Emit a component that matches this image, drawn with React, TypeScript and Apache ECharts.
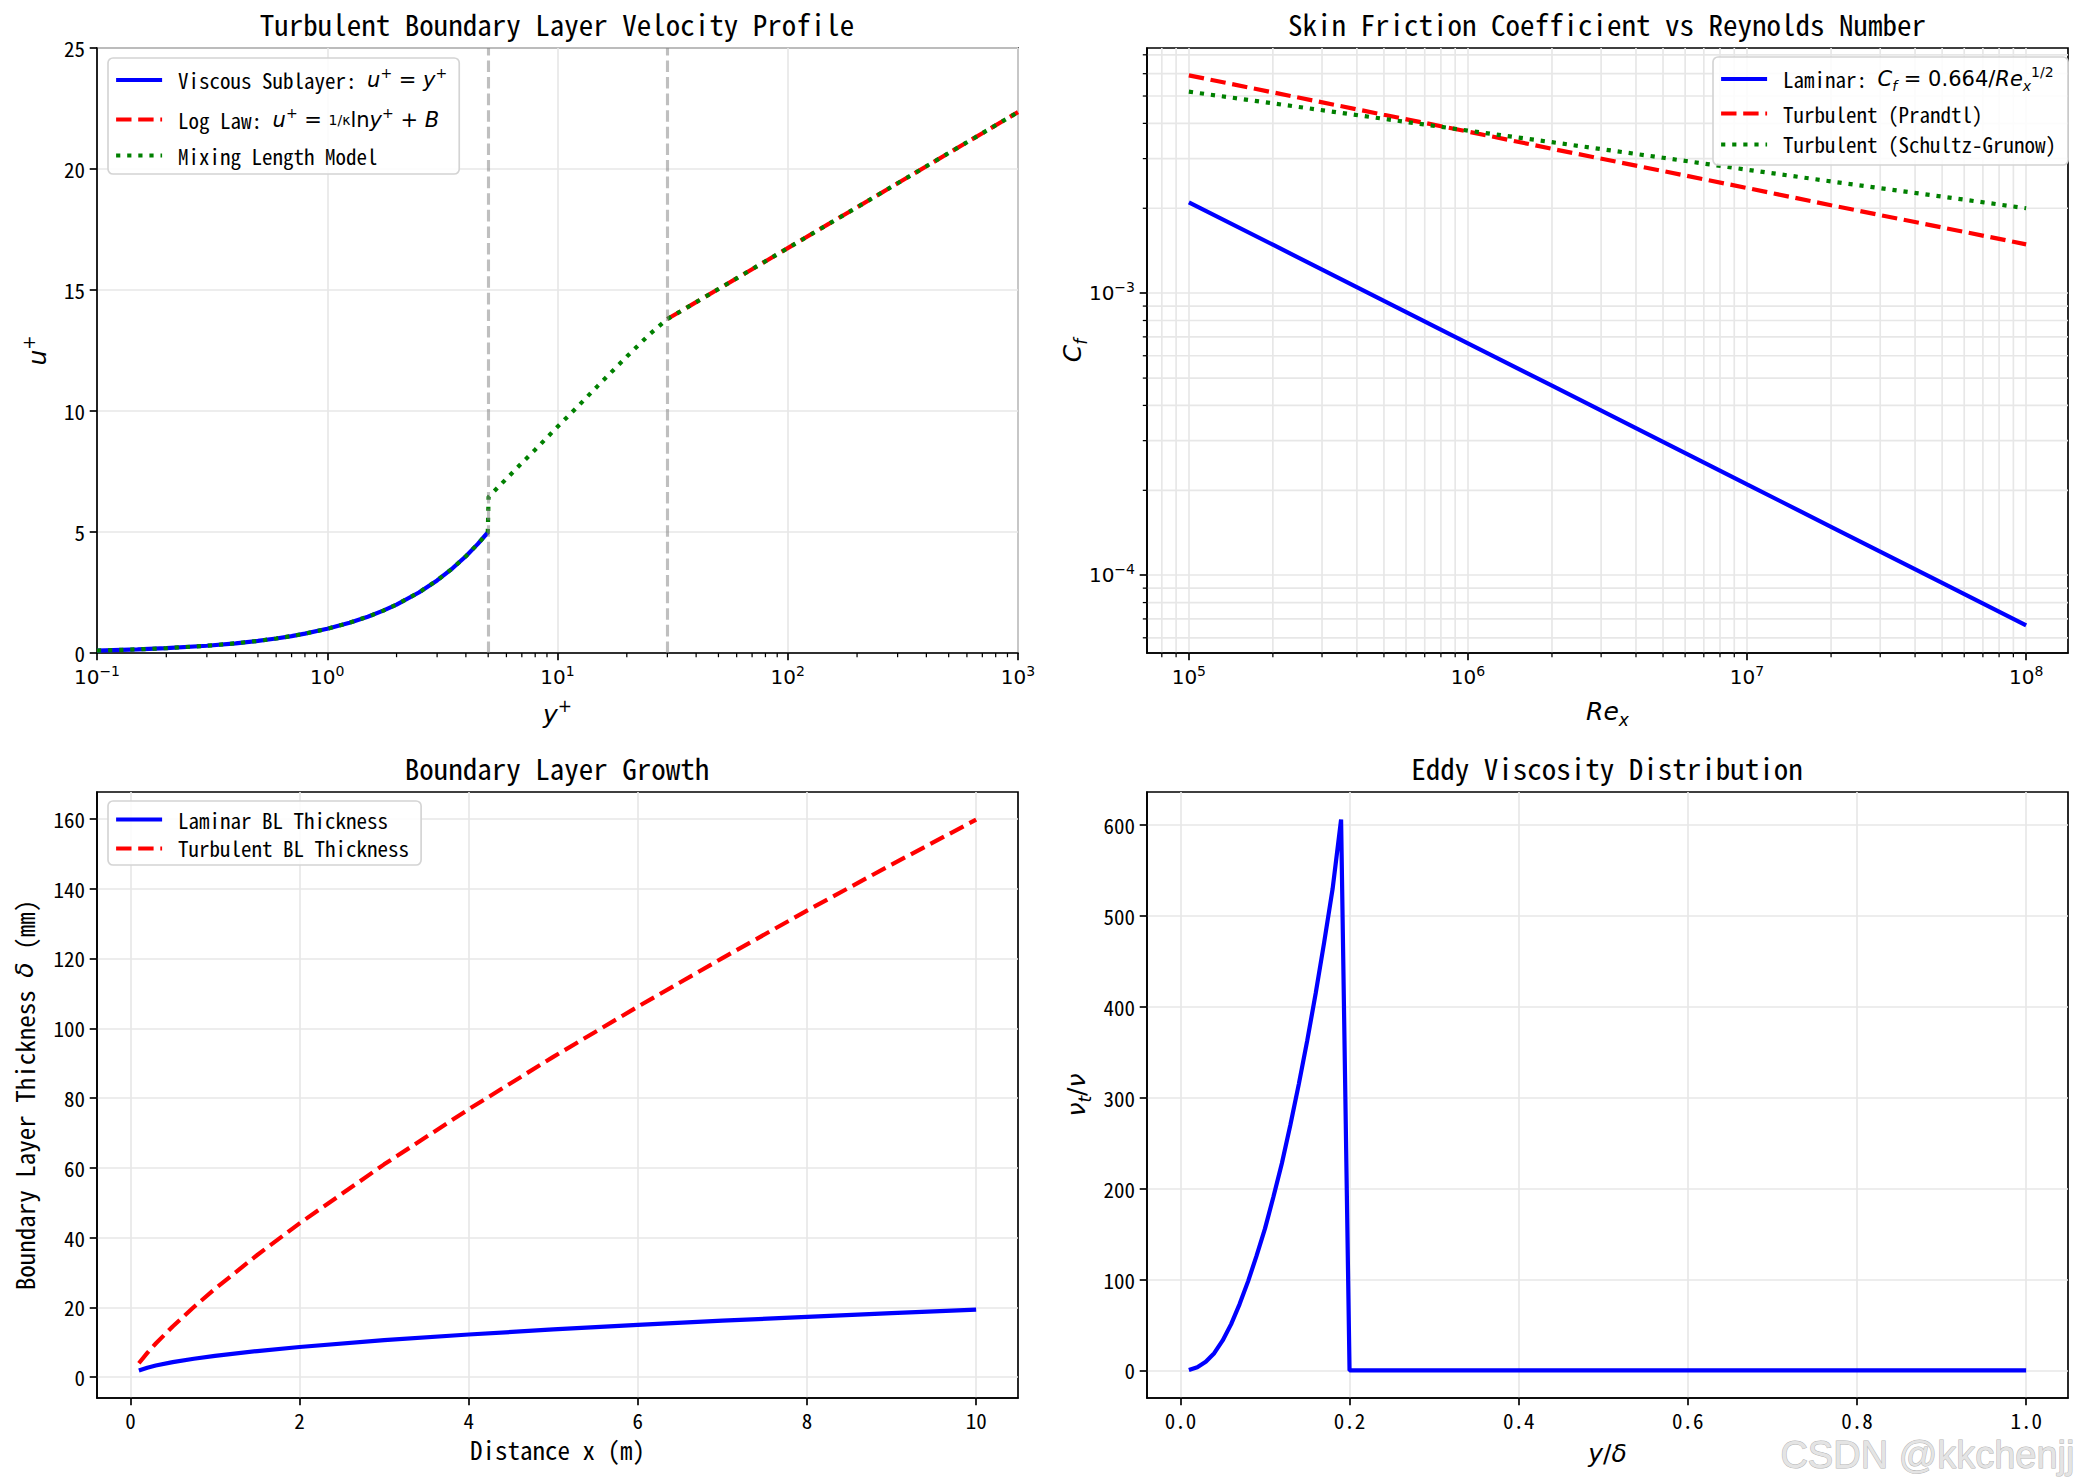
import React, { useEffect, useRef } from 'react';
import * as echarts from 'echarts';

const MONO = "'Noto Sans Mono CJK SC', 'Noto Sans CJK SC', 'DejaVu Sans Mono', monospace";
const MATH = "'DejaVu Sans', sans-serif";

// ---------- Panel 1: velocity profile ----------
const sublayerYPlus = [0.1, 0.15, 0.2, 0.3, 0.4, 0.5, 0.6, 0.7, 0.8, 1.0, 1.25, 1.5, 1.75, 2.0, 2.5, 3.0, 3.5, 4.0, 4.5, 5.0];
const sublayerUPlus = [0.1, 0.15, 0.2, 0.3, 0.4, 0.5, 0.6, 0.7, 0.8, 1.0, 1.25, 1.5, 1.75, 2.0, 2.5, 3.0, 3.5, 4.0, 4.5, 5.0];
const logLawYPlus = [30, 40, 50, 70, 100, 150, 200, 300, 500, 700, 1000];
const logLawUPlus = [13.8, 14.5, 15.04, 15.86, 16.73, 17.72, 18.42, 19.41, 20.66, 21.48, 22.35];
const mixingYPlus = [0.1, 0.15, 0.2, 0.3, 0.4, 0.5, 0.6, 0.7, 0.8, 1.0, 1.25, 1.5, 1.75, 2.0, 2.5, 3.0, 3.5, 4.0, 4.5, 4.98, 5.02, 6, 7, 8, 10, 12, 15, 20, 25, 30, 40, 50, 70, 100, 150, 200, 300, 500, 700, 1000];
const mixingUPlus = [0.1, 0.15, 0.2, 0.3, 0.4, 0.5, 0.6, 0.7, 0.8, 1.0, 1.25, 1.5, 1.75, 2.0, 2.5, 3.0, 3.5, 4.0, 4.5, 4.98, 6.45, 7.2, 7.85, 8.4, 9.35, 10.1, 11.05, 12.25, 13.15, 13.8, 14.5, 15.04, 15.86, 16.73, 17.72, 18.42, 19.41, 20.66, 21.48, 22.35];
const regionBounds = [5, 30];
const p1XTicks = [0.1, 1, 10, 100, 1000];
const p1YTicks = [0, 5, 10, 15, 20, 25];

// ---------- Panel 2: skin friction ----------
const reynolds = [1e5, 2e5, 5e5, 1e6, 2e6, 5e6, 1e7, 2e7, 5e7, 1e8];
const cfLaminar = [2.1e-3, 1.485e-3, 9.39e-4, 6.64e-4, 4.7e-4, 2.97e-4, 2.1e-4, 1.485e-4, 9.39e-5, 6.64e-5];
const cfPrandtl = [5.92e-3, 5.15e-3, 4.29e-3, 3.74e-3, 3.25e-3, 2.71e-3, 2.36e-3, 2.05e-3, 1.71e-3, 1.49e-3];
const cfSchultz = [5.18e-3, 4.71e-3, 4.15e-3, 3.77e-3, 3.43e-3, 3.02e-3, 2.74e-3, 2.49e-3, 2.2e-3, 2.0e-3];
const p2XTicks = [1e5, 1e6, 1e7, 1e8];
const p2YTicks = [1e-4, 1e-3];

// ---------- Panel 3: boundary layer growth ----------
const distanceX = [0.1, 0.2, 0.3, 0.5, 0.75, 1, 1.5, 2, 3, 4, 5, 6, 7, 8, 9, 10];
const deltaLaminar = [1.94, 2.74, 3.35, 4.33, 5.3, 6.12, 7.5, 8.66, 10.61, 12.25, 13.69, 15.0, 16.2, 17.32, 18.37, 19.37];
const deltaTurbulent = [4.01, 6.98, 9.66, 14.54, 20.12, 25.33, 35.03, 44.09, 61.0, 76.8, 91.8, 106.2, 120.1, 133.7, 146.9, 159.8];
const p3XTicks = [0, 2, 4, 6, 8, 10];
const p3YTicks = [0, 20, 40, 60, 80, 100, 120, 140, 160];

// ---------- Panel 4: eddy viscosity ----------
const eddyPosition = [0.01, 0.02, 0.03, 0.04, 0.05, 0.06, 0.07, 0.08, 0.09, 0.1, 0.11, 0.12, 0.13, 0.14, 0.15, 0.16, 0.17, 0.18, 0.19, 0.2, 1.0];
const eddyRatio = [0.5, 3.5, 9.5, 19, 33, 51, 73, 98, 126, 156, 191, 228, 270, 315, 363, 415, 471, 530, 606, 0, 0];
const p4XTicks = [0, 0.2, 0.4, 0.6, 0.8, 1.0];
const p4YTicks = [0, 100, 200, 300, 400, 500, 600];

// axis ranges
const P1X = [0.1, 1000];
const P1Y = [0, 25];
const P2X = [70795, 141254000];
const P2Y = [5.3e-5, 7.4e-3];
const P3X = [-0.395, 10.495];
const P3Y = [-5.95, 167.7];
const P4X = [-0.0395, 1.0495];
const P4Y = [-30.3, 636.3];

const BLUE = '#0000ff';
const RED = '#ff0000';
const GREEN = '#008000';
const LW = 4.2;
const DASH = [15.4, 6.7];
const DOT = [4.2, 6.9];
const GRIDC = '#e7e7e7';

const zip = (a: number[], b: number[]) => a.map((v, i) => [v, b[i]]);

const tickRich = {
  b: { fontFamily: MATH, fontSize: 20, lineHeight: 26, color: '#000' },
  s: { fontFamily: MATH, fontSize: 14, lineHeight: 14, verticalAlign: 'top', color: '#000' },
};
const nameRich = {
  t: { fontFamily: MONO, fontSize: 25, lineHeight: 34, color: '#000' },
  m: { fontFamily: MATH, fontStyle: 'italic', fontSize: 25, lineHeight: 34, color: '#000' },
  r: { fontFamily: MATH, fontSize: 25, lineHeight: 34, color: '#000' },
  sup: { fontFamily: MATH, fontSize: 17, lineHeight: 17, verticalAlign: 'top', color: '#000' },
  sub: { fontFamily: MATH, fontStyle: 'italic', fontSize: 17, lineHeight: 17, verticalAlign: 'bottom', color: '#000' },
};
const legendRich = {
  t: { fontFamily: MONO, fontSize: 21, lineHeight: 28, color: '#000' },
  m: { fontFamily: MATH, fontStyle: 'italic', fontSize: 21, lineHeight: 28, color: '#000' },
  r: { fontFamily: MATH, fontSize: 21, lineHeight: 28, color: '#000' },
  sup: { fontFamily: MATH, fontSize: 14, lineHeight: 14, verticalAlign: 'top', color: '#000' },
  sub: { fontFamily: MATH, fontStyle: 'italic', fontSize: 14, lineHeight: 14, verticalAlign: 'bottom', color: '#000' },
  fr: { fontFamily: MATH, fontSize: 14, lineHeight: 28, color: '#000' },
};

const legendLabels: Record<string, string> = {
  'Viscous Sublayer': '{t|Viscous Sublayer: }{m|u}{sup|+}{r| = }{m|y}{sup|+}',
  'Log Law': '{t|Log Law: }{m|u}{sup|+}{r| = }{fr|1/κ}{r|ln}{m|y}{sup|+}{r| + }{m|B}',
  'Mixing Length Model': '{t|Mixing Length Model}',
  'Laminar': '{t|Laminar: }{m|C}{sub|f}{r| = 0.664/}{m|Re}{sub|x}{sup|1/2}',
  'Turbulent (Prandtl)': '{t|Turbulent (Prandtl)}',
  'Turbulent (Schultz-Grunow)': '{t|Turbulent (Schultz-Grunow)}',
  'Laminar BL Thickness': '{t|Laminar BL Thickness}',
  'Turbulent BL Thickness': '{t|Turbulent BL Thickness}',
};

const powFmt = (v: number) => {
  const e = Math.round(Math.log10(v));
  return `{b|10}{s|${e < 0 ? '\u2212' + -e : e}}`;
};

function makeAxis(opts: any) {
  const { gridIndex, type, range, ticks, formatter, rich, name, nameGap, isX } = opts;
  return {
    gridIndex,
    type,
    logBase: 10,
    min: range[0],
    max: range[1],
    position: isX ? 'bottom' : 'left',
    axisLine: { show: true, onZero: false, lineStyle: { color: '#000', width: 1.67 } },
    axisTick: { show: true, inside: false, length: 7.3, customValues: ticks, lineStyle: { color: '#000', width: 1.67 } },
    axisLabel: {
      show: true,
      customValues: ticks,
      formatter,
      margin: isX ? 11 : 12,
      color: '#000',
      fontFamily: MONO,
      fontSize: 21,
      hideOverlap: false,
      showMinLabel: true,
      showMaxLabel: true,
      rich,
    },
    splitLine: { show: true, lineStyle: { color: GRIDC, width: 1.67 } },
    minorTick: { show: false },
    minorSplitLine: { show: false },
    name,
    nameLocation: 'middle',
    nameGap,
    nameMoveOverlap: false,
    nameTextStyle: { rich: nameRich, color: '#000', fontFamily: MONO, fontSize: 25 },
  };
}

const lineSeries = (name: string, xi: number, data: number[][], color: string, type: any, extra: any = {}) => ({
  name,
  type: 'line',
  xAxisIndex: xi,
  yAxisIndex: xi,
  data,
  symbol: 'none',
  showSymbol: false,
  clip: true,
  lineStyle: { color, width: LW, type, cap: 'butt' },
  itemStyle: { color },
  emphasis: { disabled: true },
  ...extra,
});

const makeLegend = (data: string[], left: number, top: number, itemGap: number, padding: number[]) => ({
  orient: 'vertical',
  left,
  top,
  data,
  itemWidth: 46,
  itemHeight: 14,
  itemGap,
  padding,
  borderColor: '#d4d4d4',
  borderWidth: 1.67,
  borderRadius: 5,
  backgroundColor: 'rgba(255,255,255,0.85)',
  selectedMode: false,
  formatter: (n: string) => legendLabels[n] || n,
  textStyle: { rich: legendRich, fontFamily: MONO, fontSize: 21, color: '#000', padding: [0, 0, 0, 11] },
  lineStyle: { width: LW, type: 'inherit' },
  itemStyle: { opacity: 0, borderWidth: 0 },
});

const titleStyle = { fontFamily: MONO, fontSize: 29, fontWeight: 'normal', color: '#000' };

function buildOption() {
  const grids = [
    { left: 97, top: 48, width: 921, height: 605 },
    { left: 1147, top: 48, width: 921, height: 605 },
    { left: 97, top: 792, width: 921, height: 606 },
    { left: 1147, top: 792, width: 921, height: 606 },
  ].map((g) => ({ ...g, show: true, borderColor: '#000', borderWidth: 1.67, backgroundColor: 'transparent', containLabel: false, outerBoundsMode: 'none' }));

  return {
    animation: false,
    backgroundColor: '#ffffff',
    title: [
      { text: 'Turbulent Boundary Layer Velocity Profile', left: 557, top: 8, textAlign: 'center', padding: 0, textStyle: titleStyle },
      { text: 'Skin Friction Coefficient vs Reynolds Number', left: 1607, top: 8, textAlign: 'center', padding: 0, textStyle: titleStyle },
      { text: 'Boundary Layer Growth', left: 557, top: 752, textAlign: 'center', padding: 0, textStyle: titleStyle },
      { text: 'Eddy Viscosity Distribution', left: 1607, top: 752, textAlign: 'center', padding: 0, textStyle: titleStyle },
    ],
    grid: grids,
    legend: [
      makeLegend(['Viscous Sublayer', 'Log Law', 'Mixing Length Model'], 108, 58, 15, [8, 12, 8, 6]),
      makeLegend(['Laminar', 'Turbulent (Prandtl)', 'Turbulent (Schultz-Grunow)'], 1713, 57, 10, [8, 12, 10, 6]),
      makeLegend(['Laminar BL Thickness', 'Turbulent BL Thickness'], 108, 801, 8, [8, 12, 6, 6]),
    ],
    xAxis: [
      makeAxis({ gridIndex: 0, type: 'log', range: P1X, ticks: p1XTicks, formatter: powFmt, rich: tickRich, name: '{m|y}{sup|+}', nameGap: 44, isX: true }),
      makeAxis({ gridIndex: 1, type: 'log', range: P2X, ticks: p2XTicks, formatter: powFmt, rich: tickRich, name: '{m|Re}{sub|x}', nameGap: 41, isX: true }),
      makeAxis({ gridIndex: 2, type: 'value', range: P3X, ticks: p3XTicks, formatter: (v: number) => String(v), name: '{t|Distance x (m)}', nameGap: 34, isX: true }),
      makeAxis({ gridIndex: 3, type: 'value', range: P4X, ticks: p4XTicks, formatter: (v: number) => v.toFixed(1), name: '{m|y}{r|/}{m|δ}', nameGap: 38, isX: true }),
    ],
    yAxis: [
      makeAxis({ gridIndex: 0, type: 'value', range: P1Y, ticks: p1YTicks, formatter: (v: number) => String(v), name: '{m|u}{sup|+}', nameGap: 43, isX: false }),
      makeAxis({ gridIndex: 1, type: 'log', range: P2Y, ticks: p2YTicks, formatter: powFmt, rich: tickRich, name: '{m|C}{sub|f}', nameGap: 58, isX: false }),
      makeAxis({ gridIndex: 2, type: 'value', range: P3Y, ticks: p3YTicks, formatter: (v: number) => String(v), name: '{t|Boundary Layer Thickness }{m|δ}{t| (mm)}', nameGap: 56, isX: false }),
      makeAxis({ gridIndex: 3, type: 'value', range: P4Y, ticks: p4YTicks, formatter: (v: number) => String(v), name: '{m|ν}{sub|t}{r|/}{m|ν}', nameGap: 54, isX: false }),
    ],
    series: [
      lineSeries('Viscous Sublayer', 0, zip(sublayerYPlus, sublayerUPlus), BLUE, 'solid'),
      lineSeries('Log Law', 0, zip(logLawYPlus, logLawUPlus), RED, DASH),
      lineSeries('Mixing Length Model', 0, zip(mixingYPlus, mixingUPlus), GREEN, DOT, {
        markLine: {
          silent: true,
          symbol: 'none',
          label: { show: false },
          emphasis: { disabled: true },
          lineStyle: { color: 'rgba(128,128,128,0.5)', width: 3.1, type: [11.6, 5] },
          data: regionBounds.map((v) => ({ xAxis: v })),
        },
      }),
      lineSeries('Laminar', 1, zip(reynolds, cfLaminar), BLUE, 'solid'),
      lineSeries('Turbulent (Prandtl)', 1, zip(reynolds, cfPrandtl), RED, DASH),
      lineSeries('Turbulent (Schultz-Grunow)', 1, zip(reynolds, cfSchultz), GREEN, DOT),
      lineSeries('Laminar BL Thickness', 2, zip(distanceX, deltaLaminar), BLUE, 'solid'),
      lineSeries('Turbulent BL Thickness', 2, zip(distanceX, deltaTurbulent), RED, DASH),
      lineSeries('Eddy Viscosity', 3, zip(eddyPosition, eddyRatio), BLUE, 'solid'),
    ],
  };
}

function minorValues(decades: number[], lo: number, hi: number) {
  const out: number[] = [];
  decades.forEach((d) => {
    for (let k = 2; k <= 9; k++) {
      const v = k * d;
      if (v > lo && v < hi) out.push(v);
    }
  });
  return out;
}

function buildGraphics(chart: any) {
  const els: any[] = [];
  const px = (gi: number, p: number[]) => chart.convertToPixel({ gridIndex: gi }, p) as number[];
  const tick = (x1: number, y1: number, x2: number, y2: number) =>
    els.push({ type: 'line', silent: true, z: 10, shape: { x1, y1, x2, y2 }, style: { stroke: '#000', lineWidth: 1.25 } });
  const gridLine = (x1: number, y1: number, x2: number, y2: number) =>
    els.push({ type: 'line', silent: true, z: 0, shape: { x1, y1, x2, y2 }, style: { stroke: GRIDC, lineWidth: 1.67 } });

  // panel 1 minor x ticks
  minorValues([0.1, 1, 10, 100], P1X[0], P1X[1]).forEach((v) => {
    const p = px(0, [v, P1Y[0]]);
    tick(p[0], p[1], p[0], p[1] + 4.2);
  });
  // panel 2 minor ticks + minor grid
  minorValues([1e4, 1e5, 1e6, 1e7, 1e8], P2X[0], P2X[1]).forEach((v) => {
    const a = px(1, [v, P2Y[0]]);
    const b = px(1, [v, P2Y[1]]);
    gridLine(a[0], a[1], b[0], b[1]);
    tick(a[0], a[1], a[0], a[1] + 4.2);
  });
  minorValues([1e-5, 1e-4, 1e-3], P2Y[0], P2Y[1]).forEach((v) => {
    const a = px(1, [P2X[0], v]);
    const b = px(1, [P2X[1], v]);
    gridLine(a[0], a[1], b[0], b[1]);
    tick(a[0], a[1], a[0] - 4.2, a[1]);
  });
  // watermark
  els.push({
    type: 'text',
    right: 8,
    bottom: 7,
    z: 20,
    silent: true,
    style: {
      text: 'CSDN @kkchenjj',
      fontFamily: "'Liberation Sans', Arial, sans-serif",
      fontSize: 38,
      lineHeight: 30,
      fill: '#e4e4e4',
      stroke: '#b4b4b4',
      lineWidth: 1,
    },
  });
  return els;
}

export default function App() {
  const ref = useRef<HTMLDivElement>(null);
  useEffect(() => {
    document.body.style.margin = '0';
    const chart = echarts.init(ref.current as HTMLDivElement, null, { renderer: 'svg' });
    chart.setOption(buildOption() as any);
    chart.setOption({ graphic: { elements: buildGraphics(chart) } } as any);
    return () => chart.dispose();
  }, []);
  return <div ref={ref} style={{ position: 'absolute', left: 0, top: 0, width: 2083, height: 1481, background: '#fff' }} />;
}
